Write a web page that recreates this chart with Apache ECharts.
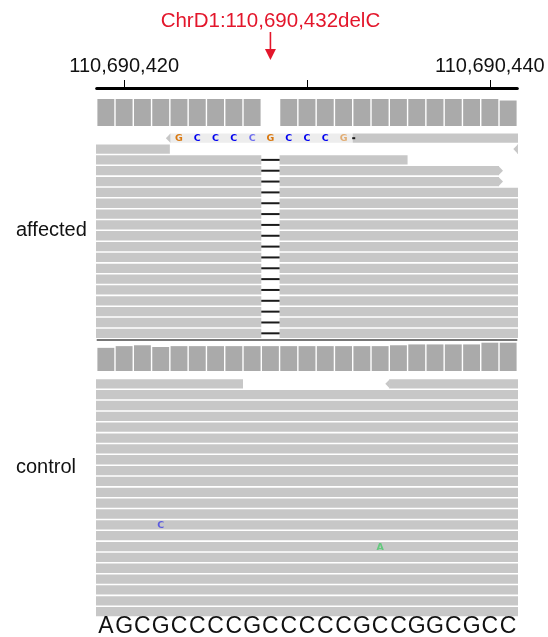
<!DOCTYPE html>
<html><head><meta charset="utf-8">
<script src="https://cdn.jsdelivr.net/npm/echarts@6/dist/echarts.min.js"></script>
<style>html,body{margin:0;padding:0;background:#fff}#c{width:548px;height:637px}</style>
</head><body><div id="c"></div>
<script>
// ---------------- data ----------------
const FIRST_POS = 110690419;            // genomic coordinate of the first base in view
const referenceSeq = ['A','G','C','G','C','C','C','C','G','C','C','C','C','C','G','C','C','G','G','C','G','C','C'];
const tickPositions = [110690420, 110690430, 110690440];
const tickLabelPositions = [110690420, 110690440];
const variantLabel = 'ChrD1:110,690,432delC';
const variantBase = 9;
const trackNames = ['affected', 'control'];

const affectedCoverage = [36,36,36,36,36,36,36,36,36,0,36,36,36,36,36,36,36,36,36,36,36,36,34];
const controlCoverage  = [27,29,30,28,29,29,29,29,29,29,29,29,29,29,29,29,30,31,31,31,31,33,33];

// reads: [row, startBase, endBase(excl), strand arrow (-1 left, 0 none, 1 right), mapping quality]
const affectedReads = [
  [0, 4, 14, -1, 0], [0, 14, 30, 0, 60],
  [1, -5, 4, 0, 60], [1, 23, 30, -1, 60],
  [2, -5, 17, 0, 60],
  [3, -5, 22, 1, 60],
  [4, -5, 22, 1, 60],
  [5, -5, 30, 0, 60], [6, -5, 30, 0, 60], [7, -5, 30, 0, 60], [8, -5, 30, 0, 60],
  [9, -5, 30, 0, 60], [10, -5, 30, 0, 60], [11, -5, 30, 0, 60], [12, -5, 30, 0, 60],
  [13, -5, 30, 0, 60], [14, -5, 30, 0, 60], [15, -5, 30, 0, 60], [16, -5, 30, 0, 60],
  [17, -5, 30, 0, 60], [18, -5, 30, 0, 60]
];
// deletions: [row, base]
const affectedDeletions = [
  [2,9],[3,9],[4,9],[5,9],[6,9],[7,9],[8,9],[9,9],[10,9],[11,9],[12,9],[13,9],[14,9],[15,9],[16,9],[17,9],[18,9]
];
// tiny deletion marks between bases: [row, boundary]
const affectedSmallMarks = [[0, 14]];
// mismatches: [row, base, letter, quality]
const affectedMismatches = [
  [0,4,'G',30],[0,5,'C',30],[0,6,'C',30],[0,7,'C',30],[0,8,'C',12],
  [0,9,'G',30],[0,10,'C',30],[0,11,'C',30],[0,12,'C',30],[0,13,'G',12]
];

const controlReads = [
  [0, -5, 8, 0, 60], [0, 16, 30, -1, 60],
  [1, -5, 30, 0, 60], [2, -5, 30, 0, 60], [3, -5, 30, 0, 60], [4, -5, 30, 0, 60],
  [5, -5, 30, 0, 60], [6, -5, 30, 0, 60], [7, -5, 30, 0, 60], [8, -5, 30, 0, 60],
  [9, -5, 30, 0, 60], [10, -5, 30, 0, 60], [11, -5, 30, 0, 60], [12, -5, 30, 0, 60],
  [13, -5, 30, 0, 60], [14, -5, 30, 0, 60], [15, -5, 30, 0, 60], [16, -5, 30, 0, 60],
  [17, -5, 30, 0, 60], [18, -5, 30, 0, 60], [19, -5, 30, 0, 60], [20, -5, 30, 0, 60],
  [21, -5, 30, 0, 60]
];
const controlDeletions = [];
const controlSmallMarks = [];
const controlMismatches = [[13,3,'C',15],[15,15,'A',15]];

// ---------------- layout & style ----------------
const GRID_TOP = 88;
const layout = {
  affected: { covBottom: 126, covHeight: 27,  row0: 138.2, rowStep: 10.84, readH: 9.3, labelY: 232 },
  control:  { covBottom: 371, covHeight: 28.3, row0: 383.8, rowStep: 10.85, readH: 9.3, labelY: 469 }
};
const SEQ_Y = 627;
const COLORS = { cov: '#aaaaaa', read: '#c7c7c7', readLowMQ: '#ededed', del: '#1a1a1a', red: '#e3162b',
  base: { A: '#10c840', C: '#0000f0', G: '#d9780f', T: '#ee0000' } };
const FONT = '"Liberation Sans", Arial, Helvetica, sans-serif';

const Y = py => py - GRID_TOP;
const bx = i => FIRST_POS + i - 0.5;   // left edge of base index i

function coverageSeries(name, cov, L) {
  const maxV = Math.max.apply(null, cov);
  return {
    type: 'custom', name: name + ' coverage', data: cov.map((v, i) => [i, v]),
    renderItem: (params, api) => {
      const i = api.value(0), v = api.value(1);
      if (!v) return null;
      const p0 = api.coord([bx(i), Y(L.covBottom)]);
      const p1 = api.coord([bx(i + 1), Y(L.covBottom)]);
      const h = v / maxV * L.covHeight;
      return { type: 'rect', shape: { x: p0[0] + 0.7, y: p0[1] - h, width: p1[0] - p0[0] - 1.4, height: h },
        style: { fill: COLORS.cov } };
    }
  };
}

function readsSeries(name, reads, L) {
  return {
    type: 'custom', name: name + ' reads', data: reads.map((r, i) => [i]), clip: true,
    renderItem: (params, api) => {
      const r = reads[params.dataIndex];
      const cy = L.row0 + r[0] * L.rowStep;
      const a = api.coord([bx(r[1]), Y(cy - L.readH / 2)]);
      const b = api.coord([bx(r[2]), Y(cy + L.readH / 2)]);
      const fill = r[4] === 0 ? COLORS.readLowMQ : COLORS.read;
      const children = [{ type: 'rect', shape: { x: a[0], y: a[1], width: b[0] - a[0], height: b[1] - a[1] }, style: { fill } }];
      const tip = 4;
      if (r[3] === -1) {
        children.push({ type: 'polygon', shape: { points: [[a[0] + 0.5, a[1]], [a[0] - tip, (a[1] + b[1]) / 2], [a[0] + 0.5, b[1]]] }, style: { fill: COLORS.read } });
      } else if (r[3] === 1) {
        children.push({ type: 'polygon', shape: { points: [[b[0] - 0.5, a[1]], [b[0] + tip, (a[1] + b[1]) / 2], [b[0] - 0.5, b[1]]] }, style: { fill: COLORS.read } });
      }
      return { type: 'group', children };
    }
  };
}

function deletionSeries(name, dels, marks, L) {
  const items = dels.map(d => [d[0], d[1], 0]).concat(marks.map(m => [m[0], m[1], 1]));
  return {
    type: 'custom', name: name + ' deletions', data: items,
    renderItem: (params, api) => {
      const row = api.value(0), base = api.value(1), kind = api.value(2);
      const cy = L.row0 + row * L.rowStep;
      if (kind === 0) {
        const a = api.coord([bx(base), Y(cy - L.readH / 2 - 0.8)]);
        const b = api.coord([bx(base + 1), Y(cy + L.readH / 2 + 0.8)]);
        return { type: 'group', children: [
          { type: 'rect', shape: { x: a[0], y: a[1], width: b[0] - a[0], height: b[1] - a[1] }, style: { fill: '#ffffff' } },
          { type: 'line', shape: { x1: a[0], y1: (a[1] + b[1]) / 2, x2: b[0], y2: (a[1] + b[1]) / 2 }, style: { stroke: COLORS.del, lineWidth: 2 } }
        ] };
      }
      const c = api.coord([bx(base), Y(cy)]);
      return { type: 'line', shape: { x1: c[0] - 0.5, y1: c[1], x2: c[0] + 2.5, y2: c[1] }, style: { stroke: COLORS.del, lineWidth: 2 } };
    }
  };
}

function mismatchSeries(name, mm, L) {
  return {
    type: 'custom', name: name + ' mismatches', data: mm.map(m => [m[1], m[0], m[3]]),
    renderItem: (params, api) => {
      const m = mm[params.dataIndex];
      const cy = L.row0 + m[0] * L.rowStep;
      const c = api.coord([FIRST_POS + m[1], Y(cy)]);
      return { type: 'text', x: c[0], y: c[1] + 0.5,
        style: { text: m[2], fill: COLORS.base[m[2]], opacity: m[3] >= 20 ? 1 : 0.55,
          font: 'bold 9.5px "DejaVu Sans", sans-serif', align: 'center', verticalAlign: 'middle' } };
    }
  };
}

const option = {
  animation: false,
  backgroundColor: '#ffffff',
  grid: { left: 96.7, right: 30.7, top: GRID_TOP, bottom: 0 },
  xAxis: {
    type: 'value', position: 'top', min: bx(0), max: bx(referenceSeq.length),
    axisLine: { show: true, onZero: false, lineStyle: { color: '#000', width: 3 } },
    axisTick: { show: true, customValues: tickPositions, length: 8, inside: false, lineStyle: { color: '#000', width: 1 } },
    axisLabel: { show: true, customValues: tickLabelPositions, margin: 12, fontSize: 20, color: '#111', fontFamily: FONT,
      formatter: v => Number(v).toLocaleString('en-US') },
    splitLine: { show: false }
  },
  yAxis: { type: 'value', min: 0, max: 637 - GRID_TOP, inverse: true, show: false },
  graphic: [
    { type: 'text', left: 16, top: layout.affected.labelY - 12, style: { text: trackNames[0], font: '20px ' + FONT, fill: '#111' } },
    { type: 'text', left: 16, top: layout.control.labelY - 12, style: { text: trackNames[1], font: '20px ' + FONT, fill: '#111' } }
  ],
  series: [
    coverageSeries('affected', affectedCoverage, layout.affected),
    readsSeries('affected', affectedReads, layout.affected),
    deletionSeries('affected', affectedDeletions, affectedSmallMarks, layout.affected),
    mismatchSeries('affected', affectedMismatches, layout.affected),
    coverageSeries('control', controlCoverage, layout.control),
    readsSeries('control', controlReads, layout.control),
    deletionSeries('control', controlDeletions, controlSmallMarks, layout.control),
    mismatchSeries('control', controlMismatches, layout.control),
    { // track separator
      type: 'custom', name: 'separator', data: [[0]],
      renderItem: (params, api) => {
        const a = api.coord([bx(0), Y(340)]);
        const b = api.coord([bx(referenceSeq.length), Y(340)]);
        return { type: 'line', shape: { x1: a[0], y1: a[1], x2: b[0], y2: b[1] }, style: { stroke: '#4a4a4a', lineWidth: 1.5 } };
      }
    },
    { // reference sequence
      type: 'custom', name: 'sequence', data: referenceSeq.map((s, i) => [i]),
      renderItem: (params, api) => {
        const i = api.value(0);
        const c = api.coord([FIRST_POS + i, Y(SEQ_Y)]);
        return { type: 'text', x: c[0], y: c[1],
          style: { text: referenceSeq[i], fill: '#111', font: '23px ' + FONT, align: 'center', verticalAlign: 'middle' } };
      }
    },
    { // variant label and arrow
      type: 'custom', name: 'variant', data: [[variantBase]], clip: false,
      renderItem: (params, api) => {
        const x = api.coord([FIRST_POS + api.value(0), 0])[0];
        const yTop = api.coord([FIRST_POS, Y(32)])[1];
        const yHead = api.coord([FIRST_POS, Y(49)])[1];
        const yTip = api.coord([FIRST_POS, Y(60)])[1];
        const yText = api.coord([FIRST_POS, Y(21)])[1];
        return { type: 'group', children: [
          { type: 'text', x: x, y: yText, style: { text: variantLabel, fill: COLORS.red, font: '20.5px ' + FONT, align: 'center', verticalAlign: 'middle' } },
          { type: 'line', shape: { x1: x, y1: yTop, x2: x, y2: yHead + 1 }, style: { stroke: COLORS.red, lineWidth: 1.6 } },
          { type: 'polygon', shape: { points: [[x - 5.5, yHead], [x + 5.5, yHead], [x, yTip]] }, style: { fill: COLORS.red } }
        ] };
      }
    }
  ]
};
const chart = echarts.init(document.getElementById('c'), null, { renderer: 'canvas' });
chart.setOption(option);
</script></body></html>
